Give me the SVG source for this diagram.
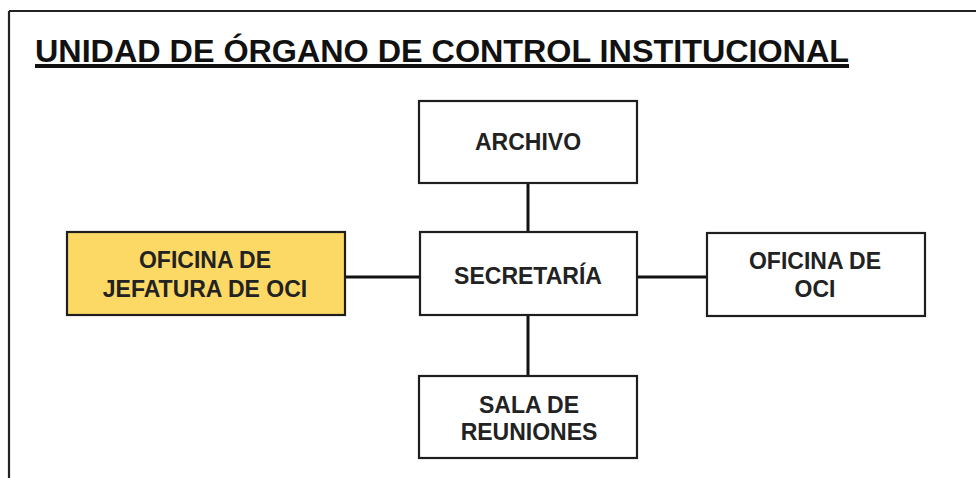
<svg xmlns="http://www.w3.org/2000/svg" width="976" height="478" viewBox="0 0 976 478">
<style>
.box{fill:#ffffff;stroke:#1e1e1e;stroke-width:2.2}
.yel{fill:#FCD964}
.lbl{font-family:"Liberation Sans",Arial,sans-serif;font-weight:bold;font-size:23px;fill:#222;text-anchor:middle}
.conn{stroke:#111;stroke-width:3;fill:none}
</style>
<rect x="0" y="0" width="976" height="478" fill="#ffffff"/>
<g id="frame">
<path d="M9,11 H976 M9,11 V478" stroke="#222" stroke-width="2.2" fill="none"/>
</g>
<g id="title">
<text x="35" y="62" font-family="'Liberation Sans',Arial,sans-serif" font-weight="bold" font-size="32" fill="#111" textLength="814" lengthAdjust="spacingAndGlyphs">UNIDAD DE ÓRGANO DE CONTROL INSTITUCIONAL</text>
<rect x="35" y="64" width="814" height="4" fill="#111"/>
</g>
<g id="connectors">
<line class="conn" x1="528" y1="183" x2="528" y2="232"/>
<line class="conn" x1="528" y1="315" x2="528" y2="376"/>
<line class="conn" x1="345" y1="277" x2="420" y2="277"/>
<line class="conn" x1="637" y1="277" x2="707" y2="277"/>
</g>
<g id="archivo">
<rect class="box" x="419" y="101" width="218" height="82"/>
<text class="lbl" x="528" y="150">ARCHIVO</text>
</g>
<g id="secretaria">
<rect class="box" x="420" y="232" width="217" height="83"/>
<text class="lbl" x="528" y="284">SECRETARÍA</text>
</g>
<g id="jefatura">
<rect class="box yel" x="67" y="232" width="278" height="83"/>
<text class="lbl" x="205" y="268">OFICINA DE</text>
<text class="lbl" x="205" y="297">JEFATURA DE OCI</text>
</g>
<g id="oficina-oci">
<rect class="box" x="707" y="233" width="218" height="83"/>
<text class="lbl" x="815" y="269">OFICINA DE</text>
<text class="lbl" x="815" y="297">OCI</text>
</g>
<g id="sala">
<rect class="box" x="419" y="376" width="218" height="82"/>
<text class="lbl" x="529" y="413">SALA DE</text>
<text class="lbl" x="529" y="440">REUNIONES</text>
</g>
</svg>
